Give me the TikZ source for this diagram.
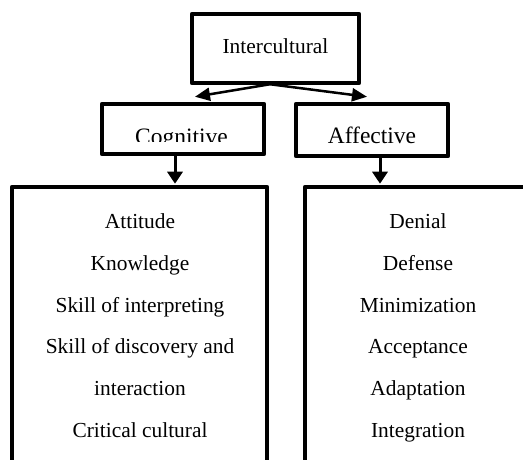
\documentclass[tikz,border=0pt]{standalone}
\usepackage{fontspec}
\setmainfont{Liberation Serif}
\usetikzlibrary{arrows.meta}

\begin{document}
\begin{tikzpicture}[x=1pt, y=-1pt,
  box/.style={draw, line width=4.5pt, line join=round, inner sep=0pt},
  item/.style={font=\fontsize{21.4}{26}\selectfont, anchor=base, inner sep=0pt},
  conn/.style={line width=2.5pt, -{Triangle[length=15pt,width=13pt]}},
  down/.style={line width=3pt, -{Triangle[length=12pt,width=15pt]}, shorten >=1pt}]
\useasboundingbox (0,0) rectangle (523,460);
\clip (0,0) rectangle (523,460);

% top box
\node[box, minimum width=167pt, minimum height=69pt, font=\fontsize{21.4}{26}\selectfont,
      text height=11pt, text depth=0pt] (inter) at (275.5,48.5) {Intercultural};

% second row
\node[box, minimum width=162pt, minimum height=50pt] (cog) at (183,129) {};
\begin{scope}
\clip (104,104) rectangle (264,142);
\node[item, font=\fontsize{23.5}{28}\selectfont] (cogtext) at (181.5,144.5) {Cognitive};
\end{scope}
\node[box, minimum width=152pt, minimum height=52pt, font=\fontsize{23.5}{28}\selectfont,
      text height=28pt, text depth=0pt] (aff) at (372,130) {Affective};

% lower boxes
\node[box, minimum width=255pt, minimum height=288pt] (skills) at (139.5,331) {};
\node[box, minimum width=226pt, minimum height=288pt] (stages) at (418,331) {};

\foreach \txt [count=\i] in {Attitude, Knowledge, Skill of interpreting,
    Skill of discovery and, interaction, Critical cultural}
  \node[item] (skill\i) at (140,187.4+41.6*\i) {\txt};
\foreach \txt [count=\i] in {Denial, Defense, Minimization, Acceptance,
    Adaptation, Integration}
  \node[item] (stage\i) at (418,187.4+41.6*\i) {\txt};

% connectors
\draw[conn] ([xshift=-5.5pt,yshift=1pt]inter.south) -- ([xshift=12pt,yshift=5pt]cog.north);
\draw[conn] ([xshift=-5.5pt,yshift=1pt]inter.south) -- ([xshift=-5pt,yshift=5pt]aff.north);
\draw[down] ([xshift=-8pt]cog.south) -- ([xshift=35.5pt]skills.north);
\draw[down] ([xshift=8pt]aff.south) -- ([xshift=-38pt]stages.north);
\end{tikzpicture}
\end{document}
